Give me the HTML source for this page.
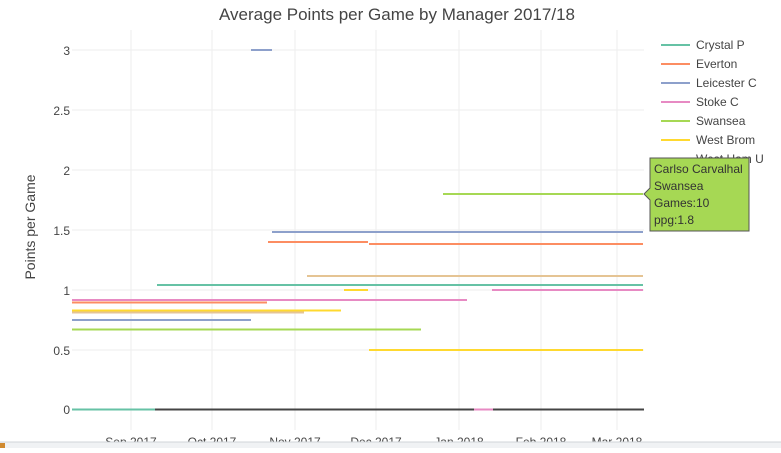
<!DOCTYPE html><html><head><style>body{margin:0;background:#fff;overflow:hidden}svg{font-family:"Liberation Sans",sans-serif}</style></head><body>
<svg width="781" height="448" xmlns="http://www.w3.org/2000/svg">
<rect width="781" height="448" fill="#fff"/>
<text x="397" y="20" font-size="17" fill="#444" text-anchor="middle">Average Points per Game by Manager 2017/18</text>
<g stroke="#eee" stroke-width="1">
<line x1="72" x2="644" y1="50" y2="50"/><line x1="72" x2="644" y1="110" y2="110"/><line x1="72" x2="644" y1="170" y2="170"/><line x1="72" x2="644" y1="230" y2="230"/><line x1="72" x2="644" y1="290" y2="290"/><line x1="72" x2="644" y1="350" y2="350"/>
<line x1="131" x2="131" y1="30" y2="430"/><line x1="212" x2="212" y1="30" y2="430"/><line x1="295" x2="295" y1="30" y2="430"/><line x1="376" x2="376" y1="30" y2="430"/><line x1="459" x2="459" y1="30" y2="430"/><line x1="541" x2="541" y1="30" y2="430"/><line x1="617" x2="617" y1="30" y2="430"/>
</g>
<g font-size="12" fill="#444" text-anchor="end">
<text x="70" y="55">3</text><text x="70" y="115">2.5</text><text x="70" y="175">2</text><text x="70" y="235">1.5</text><text x="70" y="295">1</text><text x="70" y="355">0.5</text><text x="70" y="414">0</text></g>
<g font-size="12" fill="#444" text-anchor="middle">
<text x="131" y="446">Sep 2017</text><text x="212" y="446">Oct 2017</text><text x="295" y="446">Nov 2017</text><text x="376" y="446">Dec 2017</text><text x="459" y="446">Jan 2018</text><text x="541" y="446">Feb 2018</text><text x="617" y="446">Mar 2018</text></g>
<text transform="translate(35,227) rotate(-90)" font-size="14" fill="#444" text-anchor="middle">Points per Game</text>
<g stroke-width="2">
<line x1="155" x2="644" y1="409.5" y2="409.5" stroke="#444"/>
<line x1="72" x2="155" y1="409.5" y2="409.5" stroke="#66c2a5"/>
<line x1="474" x2="493" y1="409.5" y2="409.5" stroke="#e78ac3"/>
<line x1="251" x2="272" y1="50" y2="50" stroke="#8da0cb"/>
<line x1="443" x2="643" y1="194" y2="194" stroke="#a6d854"/>
<line x1="272" x2="643" y1="232" y2="232" stroke="#8da0cb"/>
<line x1="268" x2="368" y1="242" y2="242" stroke="#fc8d62"/>
<line x1="369" x2="643" y1="244" y2="244" stroke="#fc8d62"/>
<line x1="307" x2="643" y1="276" y2="276" stroke="#e5c494"/>
<line x1="157" x2="643" y1="285" y2="285" stroke="#66c2a5"/>
<line x1="344" x2="368" y1="290" y2="290" stroke="#ffd92f"/>
<line x1="492" x2="643" y1="290" y2="290" stroke="#e78ac3"/>
<line x1="72" x2="467" y1="300" y2="300" stroke="#e78ac3"/>
<line x1="72" x2="267" y1="302.5" y2="302.5" stroke="#fc8d62"/>
<line x1="72" x2="341" y1="310.5" y2="310.5" stroke="#ffd92f"/>
<line x1="72" x2="304" y1="312.5" y2="312.5" stroke="#e5c494"/>
<line x1="72" x2="251" y1="320" y2="320" stroke="#8da0cb"/>
<line x1="72" x2="421" y1="329.5" y2="329.5" stroke="#a6d854"/>
<line x1="369" x2="643" y1="350" y2="350" stroke="#ffd92f"/>
</g>
<g font-size="12" fill="#444">
<line x1="661" x2="690" y1="45" y2="45" stroke="#66c2a5" stroke-width="2"/><text x="696" y="49">Crystal P</text>
<line x1="661" x2="690" y1="64" y2="64" stroke="#fc8d62" stroke-width="2"/><text x="696" y="68">Everton</text>
<line x1="661" x2="690" y1="83" y2="83" stroke="#8da0cb" stroke-width="2"/><text x="696" y="87">Leicester C</text>
<line x1="661" x2="690" y1="102" y2="102" stroke="#e78ac3" stroke-width="2"/><text x="696" y="106">Stoke C</text>
<line x1="661" x2="690" y1="121" y2="121" stroke="#a6d854" stroke-width="2"/><text x="696" y="125">Swansea</text>
<line x1="661" x2="690" y1="140" y2="140" stroke="#ffd92f" stroke-width="2"/><text x="696" y="144">West Brom</text>
<text x="696" y="163">West Ham U</text>
</g>
<path d="M650,158 H749 V231 H650 V200 L644,194 L650,188 Z" fill="#a6d854" stroke="#555" stroke-width="1"/>
<g font-size="12" fill="#333"><text x="654" y="173">Carlso Carvalhal</text><text x="654" y="190">Swansea</text><text x="654" y="207">Games:10</text><text x="654" y="224">ppg:1.8</text></g>
<rect x="0" y="442" width="781" height="6" fill="#f0f2f4"/><line x1="0" x2="781" y1="442" y2="442" stroke="#d0d4d8"/>
<rect x="0" y="443" width="5" height="5" fill="#d08a30"/>
</svg></body></html>
